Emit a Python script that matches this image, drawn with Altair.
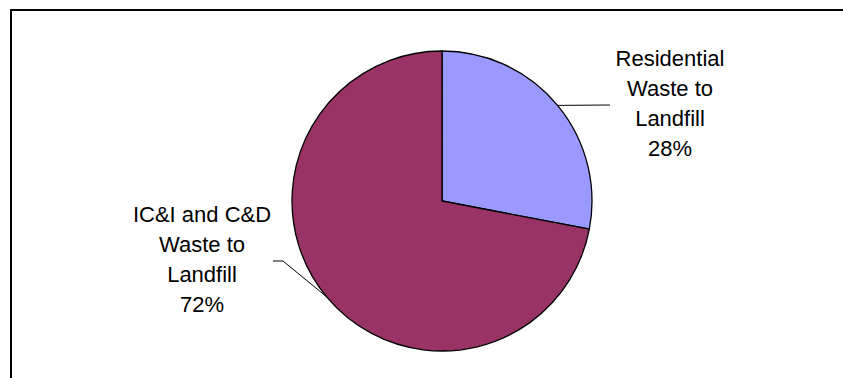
import math
import altair as alt
import pandas as pd

# ---- data ----
categories = ["Residential Waste to Landfill", "IC&I and C&D Waste to Landfill"]
values = [28, 72]
label_lines = [
    ["Residential", "Waste to", "Landfill", "28%"],
    ["IC&I and C&D", "Waste to", "Landfill", "72%"],
]
colors = ["#9999FF", "#993366"]

# ---- layout constants ----
W, H = 843, 378
CX, CY, R = 442, 201, 150
LINE_H = 30
FONT = "Liberation Sans"
FS = 22
# label block: text centre x, first baseline y, leader elbow points
label_layout = [
    {"tx": 670, "ty": 66, "pts": [(610, 105)]},
    {"tx": 202, "ty": 222, "pts": [(283, 261), (273, 261)]},
]

pie_df = pd.DataFrame({"category": categories, "value": values, "idx": range(len(values))})

total = sum(values)
lead_rows, text_rows = [], []
cum = 0
for i, v in enumerate(values):
    mid = (cum + v / 2) / total * 2 * math.pi
    cum += v
    ex = CX + R * math.sin(mid)
    ey = CY - R * math.cos(mid)
    pts = [(ex, ey)] + label_layout[i]["pts"]
    for k, (px, py) in enumerate(pts):
        lead_rows.append({"seg": i, "k": k, "x": px, "y": py})
    for j, t in enumerate(label_lines[i]):
        text_rows.append({"t": t, "x": label_layout[i]["tx"], "y": label_layout[i]["ty"] + j * LINE_H})

lead_df = pd.DataFrame(lead_rows)
text_df = pd.DataFrame(text_rows)

frame_top = alt.Chart(pd.DataFrame({"a": [0]})).mark_rule(color="black", strokeWidth=2).encode(
    x=alt.value(10), x2=alt.value(W), y=alt.value(10)
)
frame_left = alt.Chart(pd.DataFrame({"a": [0]})).mark_rule(color="black", strokeWidth=2).encode(
    x=alt.value(11), y=alt.value(9), y2=alt.value(H)
)

pie = alt.Chart(pie_df).mark_arc(radius=R, stroke="black", strokeWidth=1.3).encode(
    theta=alt.Theta("value:Q", stack=True),
    color=alt.Color("category:N", scale=alt.Scale(domain=categories, range=colors), legend=None),
    order=alt.Order("idx:Q", sort="ascending"),
    x=alt.value(CX),
    y=alt.value(CY),
)

leaders = alt.Chart(lead_df).mark_line(color="black", strokeWidth=1).encode(
    x=alt.X("x:Q", scale=None, axis=None),
    y=alt.Y("y:Q", scale=None, axis=None),
    detail="seg:N",
    order="k:Q",
)

labels = alt.Chart(text_df).mark_text(
    font=FONT, fontSize=FS, align="center", baseline="alphabetic", color="black"
).encode(
    x=alt.X("x:Q", scale=None, axis=None),
    y=alt.Y("y:Q", scale=None, axis=None),
    text="t:N",
)

chart = alt.layer(frame_top, frame_left, pie, leaders, labels).properties(
    width=W, height=H, padding=0, autosize=alt.AutoSizeParams(type="none"), background="white"
).configure_view(stroke=None)

chart.save("out.html", embed_options={"renderer": "svg", "actions": False})
